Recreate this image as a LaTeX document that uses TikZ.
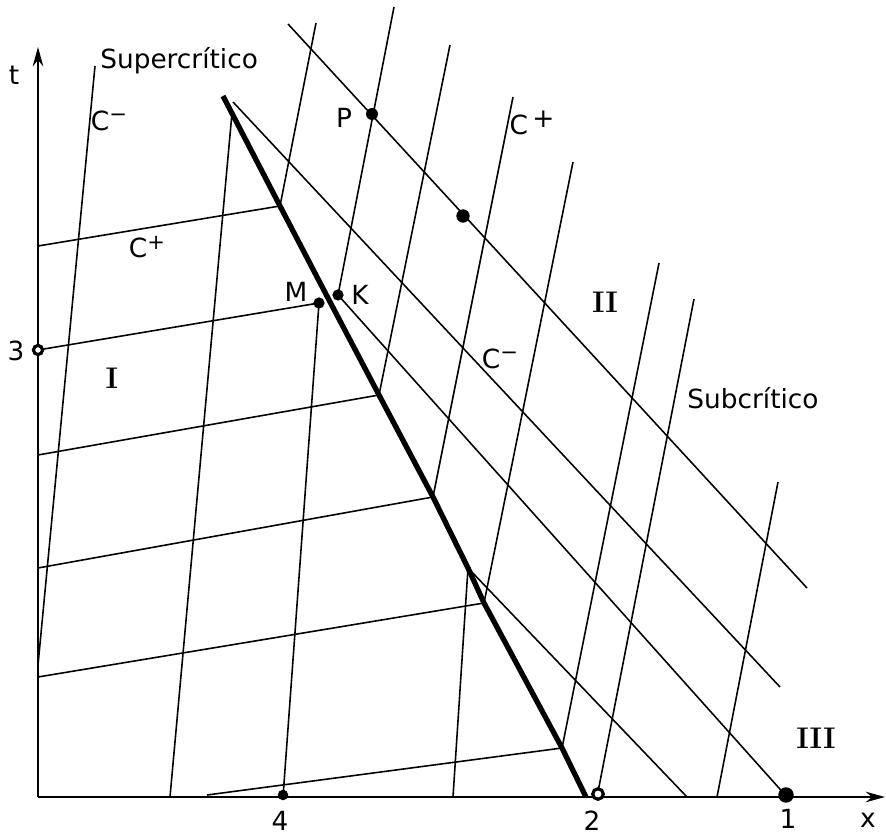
\documentclass[tikz,border=0pt]{standalone}
\usepackage{fontspec}
\newfontfamily\labfont{DejaVu Sans}
\usetikzlibrary{arrows.meta}
\newcommand\charlab[1]{C\raisebox{.6ex}{\fontsize{12}{12}\selectfont#1}}
\begin{document}
\begin{tikzpicture}[x=0.02cm,y=0.02cm,
    char/.style={line width=0.9pt},
    lab/.style={font=\labfont\fontsize{15}{18}\selectfont,inner sep=0pt},
    reg/.style={font=\fontsize{17}{19}\selectfont\bfseries,inner sep=0pt}]
    \useasboundingbox (-38,-39) rectangle (848,797);

    \coordinate (O) at (0,0);
    \coordinate (xend) at (847,0);
    \coordinate (tend) at (0,750);
    \draw[line width=1.1pt,-{Stealth[length=11pt,width=6pt]}] (O) -- (xend);
    \draw[line width=1.1pt,-{Stealth[length=11pt,width=6pt]}] (O) -- (tend);

    \coordinate (M) at (281,494);
    \coordinate (K) at (300,502);
    \coordinate (P) at (334,683);
    \coordinate (Q) at (425,581);
    \coordinate (p1) at (748,2);
    \coordinate (p2) at (560,3);
    \coordinate (p3) at (0,447);
    \coordinate (p4) at (245,2);

    % choque
    \draw[line width=3pt,line join=round] (185,701) -- (242,591) -- (291,497) -- (341,402)
        -- (395,300) -- (430,229) -- (446,194) -- (524,49) -- (548,0);

    % zona I
    \draw[char] (0,551) -- (242,591);
    \draw[char] (p3) -- (M);
    \draw[char] (0,342) -- (341,402);
    \draw[char] (0,229) -- (395,300);
    \draw[char] (0,120) -- (446,194);
    \draw[char] (169,2) -- (524,49);
    \draw[char] (57,731) -- (0,132);
    \draw[char] (194,684) -- (132,0);
    \draw[char] (245,0) -- (M);
    \draw[char] (415,0) -- (430,229);

    % zona II
    \draw[char] (242,591) -- (278,774);
    \draw[char] (K) -- (356,790);
    \draw[char] (341,402) -- (412,752);
    \draw[char] (395,300) -- (475,700);
    \draw[char] (446,194) -- (535,635);
    \draw[char] (524,49) -- (621,534);
    \draw[char] (559,0) -- (656,498);
    \draw[char] (679,0) -- (740,315);
    \draw[char] (250,773) -- (769,209);
    \draw[char] (195,695) -- (742,110);
    \draw[char] (K) -- (749,0);
    \draw[char] (430,229) -- (649,0);

    \fill (P) circle (3.4pt);
    \fill (Q) circle (3.8pt);
    \fill (M) circle (3.2pt);
    \fill (K) circle (3.2pt);
    \filldraw[fill=white,line width=1.8pt] (p3) circle (2.6pt);
    \fill (p4) circle (3pt);
    \filldraw[fill=white,line width=1.8pt] (p2) circle (3pt);
    \fill (p1) circle (4.4pt);

    \node[lab] (tlab) at (-24,722) {t};
    \node[lab,anchor=west] (sup) at (62,736) {Supercrítico};
    \node[lab] (cm1) at (71,676) {\charlab{−}};
    \node[lab] (cp1) at (109,550) {\charlab{+}};
    \node[lab] (Plab) at (306,679) {P};
    \node[lab] (cp2) at (494,674) {C\,\raisebox{.5ex}{+}};
    \node[lab] (Mlab) at (258,505) {M};
    \node[lab] (Klab) at (322,502) {K};
    \node[lab] (lab3) at (-22,446) {3};
    \node[reg] (rI) at (74,419) {I};
    \node[reg] (rII) at (567,495) {II};
    \node[lab] (cm2) at (462,438) {\charlab{−}};
    \node[lab] (sub) at (715,399) {Subcrítico};
    \node[reg] (rIII) at (778,59) {III};
    \node[lab] (lab4) at (242,-24) {4};
    \node[lab] (lab2) at (554,-24) {2};
    \node[lab] (lab1) at (750,-22) {1};
    \node[lab] (xlab) at (830,-23) {x};
\end{tikzpicture}
\end{document}
